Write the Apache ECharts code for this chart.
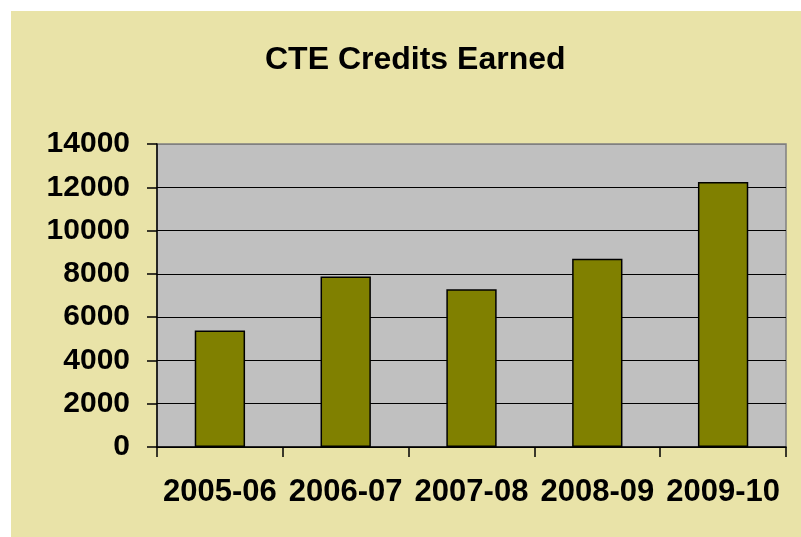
<!DOCTYPE html>
<html>
<head>
<meta charset="utf-8">
<script src="https://cdn.jsdelivr.net/npm/echarts@6/dist/echarts.min.js"></script>
<style>
html,body{margin:0;padding:0;background:#ffffff;width:801px;height:537px;overflow:hidden;}
#chart{position:absolute;left:11px;top:11px;width:790px;height:526px;background:#E9E3A8;}
</style>
</head>
<body>
<div id="chart"></div>
<script>
const categories = ['2005-06','2006-07','2007-08','2008-09','2009-10'];
const credits = [5380, 7880, 7290, 8700, 12250];
const yTicks = {min: 0, max: 14000, interval: 2000};
const titleText = 'CTE Credits Earned';

const chart = echarts.init(document.getElementById('chart'), null, {renderer: 'canvas'});
const font = 'Liberation Sans, Arial, Helvetica, sans-serif';
chart.setOption({
  backgroundColor: '#E9E3A8',
  animation: false,
  title: {
    text: titleText,
    left: 254,
    top: 33,
    padding: 0,
    textStyle: {fontFamily: font, fontWeight: 'bold', fontSize: 32, color: '#000'}
  },
  grid: {
    left: 146, top: 133, right: 15, bottom: 90,
    show: true, backgroundColor: '#C0C0C0', borderColor: '#808080', borderWidth: 1.5
  },
  xAxis: {
    type: 'category',
    data: categories,
    boundaryGap: true,
    axisLine: {lineStyle: {color: '#000', width: 1.5}},
    axisTick: {show: true, length: 10, lineStyle: {color: '#000', width: 1.5}},
    axisLabel: {fontFamily: font, fontWeight: 'bold', fontSize: 31, color: '#000', margin: 30, interval: 0}
  },
  yAxis: {
    type: 'value',
    min: yTicks.min, max: yTicks.max, interval: yTicks.interval,
    axisLine: {show: true, lineStyle: {color: '#000', width: 1.5}},
    axisTick: {show: true, length: 10, lineStyle: {color: '#000', width: 1.5}},
    axisLabel: {fontFamily: font, fontWeight: 'bold', fontSize: 30, color: '#000', margin: 27,
      formatter: function (v) { return String(v); }},
    splitLine: {show: true, lineStyle: {color: ['#000','#000','#000','#000','#000','#000','#000','#808080'], width: 1.2}}
  },
  series: [{
    type: 'bar',
    data: credits,
    barWidth: '40%',
    itemStyle: {color: '#808000', borderColor: '#000', borderWidth: 1.5}
  }]
});
</script>
</body>
</html>
